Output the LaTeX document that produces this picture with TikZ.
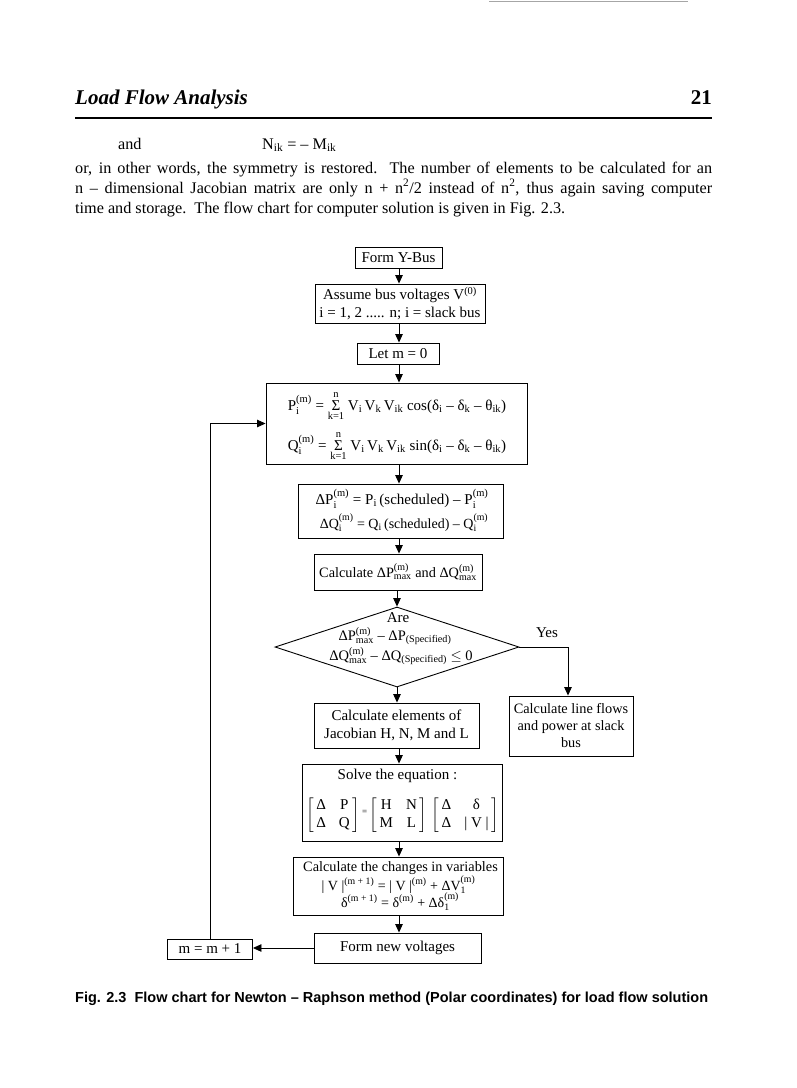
\documentclass[tikz,border=0pt]{standalone}
\usepackage{amsmath}
\usepackage{fontspec}
\setmainfont{Liberation Serif}
\newfontfamily\capfont{Liberation Sans}
\usetikzlibrary{shapes.geometric,arrows.meta}
\newcommand{\SP}[3]{\ensuremath{\text{#1}_{\text{#2}}^{\text{#3}}}}
\newcommand{\SUB}[1]{\textsubscript{#1}}
\newcommand{\SUMK}{\ensuremath{\mathop{\text{Σ}}\limits_{\text{k=1}}^{\text{n}}}}
\newcommand{\fcf}{\fontsize{15}{18.5}\selectfont}
\newcommand{\fcm}{\fontsize{14.3}{17}\selectfont}
\newcommand{\fcs}{\fontsize{14}{16}\selectfont}
\newcommand{\ptf}{\fontsize{16.2}{20}\selectfont}
\newcommand{\MTX}[4]{\left[\begin{array}{@{\,}c@{\hspace{13pt}}c@{\,}}\text{#1}&\text{#2}\\\text{#3}&\text{#4}\end{array}\right]}
\tikzset{
  fcbox/.style={draw, line width=0.9pt, inner sep=1pt, align=center, font=\fcf},
  fctext/.style={inner sep=0pt, font=\fcf},
  ptext/.style={inner sep=0pt, anchor=base west, font=\ptf},
  fcarrow/.style={line width=0.9pt, -{Triangle[length=8.5pt,width=7.5pt]}},
  fcline/.style={line width=0.9pt}
}
\begin{document}
\begin{tikzpicture}[x=1pt,y=-1pt]
\useasboundingbox (0,0) rectangle (797,1088);
% scan edge line at the top
\draw[black!35, line width=1.2pt] (489,1.5) -- (688,1.5);
% running head
\node[anchor=base west, inner sep=0, font=\fontsize{21}{24}\selectfont\bfseries\itshape] (title) at (75,104) {Load Flow Analysis};
\node[anchor=base east, inner sep=0, font=\fontsize{21}{24}\selectfont\bfseries] (pageno) at (712,104) {21};
\coordinate (ruleL) at (75,118);
\coordinate (ruleR) at (712,118);
\draw[line width=1.6pt] (ruleL) -- (ruleR);
% text
\node[ptext] (and) at (118,149) {and};
\node[ptext] (nik) at (262,149) {N\SUB{ik} = – M\SUB{ik}};
\node[ptext] (l1) at (75,173) {\makebox[637pt][s]{or, in other words, the symmetry is restored.\ \ The number of elements to be calculated for an}};
\node[ptext] (l2) at (75,193) {\makebox[637pt][s]{n – dimensional Jacobian matrix are only n + n\textsuperscript{2}/2 instead of n\textsuperscript{2}, thus again saving computer}};
\node[ptext] (l3) at (75,213) {time and storage.\ \ The flow chart for computer solution is given in Fig. 2.3.};
% flow chart
\coordinate (col) at (399,0);
\coordinate (yesx) at (568,0);
\node[fcbox, minimum width=87pt, minimum height=21pt] (ybus) at (398.5,257.5) {Form Y-Bus};
\node[fcbox, minimum width=170pt, minimum height=39pt] (assume) at (400,303.5) {Assume bus voltages V\textsuperscript{(0)}\\i = 1, 2 ..... n; i = slack bus};
\node[fcbox, minimum width=82pt, minimum height=21pt] (letm) at (398,353.5) {Let m = 0};
\node[fcbox, minimum width=261pt, minimum height=81pt] (pq) at (396.5,423.5) {};
\node[fctext, anchor=base] (pline) at (397,410) {\SP{P}{i}{(m)} = \SUMK\ V\SUB{i}\,V\SUB{k}\,V\SUB{ik} cos(δ\SUB{i} – δ\SUB{k} – θ\SUB{ik})};
\node[fctext, anchor=base] (qline) at (397,450) {\SP{Q}{i}{(m)} = \SUMK\ V\SUB{i}\,V\SUB{k}\,V\SUB{ik} sin(δ\SUB{i} – δ\SUB{k} – θ\SUB{ik})};
\node[fcbox, minimum width=205pt, minimum height=54pt] (dp) at (400.5,511) {};
\node[fctext, anchor=base] (dpline) at (402,504) {\SP{ΔP}{i}{(m)} = P\SUB{i}\,(scheduled) – \SP{P}{i}{(m)}};
\node[fctext, anchor=base, font=\fcs] (dqline) at (404,528) {\SP{ΔQ}{i}{(m)} = Q\SUB{i}\,(scheduled) – \SP{Q}{i}{(m)}};
\node[fcbox, font=\fcm, minimum width=168pt, minimum height=36pt] (calcmax) at (398,572) {Calculate \SP{ΔP}{max}{(m)} and \SP{ΔQ}{max}{(m)}};
\node[draw, fcline, diamond, minimum width=244pt, minimum height=80pt, inner sep=0pt] (dia) at (397,647) {};
\node[fctext, anchor=base] (are) at (398,622) {Are};
\node[fctext, anchor=base, font=\fontsize{14.5}{16}\selectfont] (dial2) at (395,640) {\SP{ΔP}{max}{(m)} – ΔP\SUB{(Specified)}};
\node[fctext, anchor=base, font=\fontsize{14.5}{16}\selectfont] (dial3) at (401,660) {\SP{ΔQ}{max}{(m)} – ΔQ\SUB{(Specified)} \ensuremath{\leq} 0};
\node[fctext] (yes) at (547,633) {Yes};
\node[fcbox, minimum width=165pt, minimum height=45pt] (jac) at (396.5,725.5) {Calculate elements of\\Jacobian H, N, M and L};
\node[fcbox, font=\fcm, minimum width=124pt, minimum height=60pt] (flows) at (571,726) {Calculate line flows\\[0pt]and power at slack\\[0pt]bus};
\node[fcbox, minimum width=200pt, minimum height=77pt] (solve) at (402,802.5) {};
\node[fctext, anchor=base] (solvet) at (397.5,779) {Solve the equation :};
\node[fctext] (mat) at (402.5,815) {\renewcommand{\arraystretch}{0.95}$\MTX{Δ}{P}{Δ}{Q}\raisebox{4pt}{\text{\small =}}\MTX{H}{N}{M}{L}\,\MTX{Δ}{δ}{Δ}{| V |}$};
\node[fcbox, minimum width=210pt, minimum height=58pt] (changes) at (398,886) {};
\node[fctext, anchor=base, font=\fcm] (ch1) at (400.5,871) {Calculate the changes in variables};
\node[fctext, anchor=base, font=\fcs] (ch2) at (398.5,890) {\SP{| V |}{}{(m + 1)} = \SP{| V |}{}{(m)} + \SP{ΔV}{1}{(m)}};
\node[fctext, anchor=base, font=\fcs] (ch3) at (400,907) {\SP{δ}{}{(m + 1)} = \SP{δ}{}{(m)} + \SP{Δδ}{1}{(m)}};
\node[fcbox, minimum width=167pt, minimum height=30pt] (newv) at (397.5,948) {Form new voltages};
\node[fcbox, minimum width=85pt, minimum height=20pt] (mm1) at (210,949) {m = m + 1};
% connectors
\draw[fcarrow] (ybus.south -| col) -- (assume.north -| col);
\draw[fcarrow] (assume.south -| col) -- (letm.north -| col);
\draw[fcarrow] (letm.south -| col) -- (pq.north -| col);
\draw[fcarrow] (pq.south -| col) -- (dp.north -| col);
\draw[fcarrow] (dp.south -| col) -- (calcmax.north -| col);
\draw[fcarrow] (calcmax.south -| dia.north) -- (dia.north);
\draw[fcarrow] (dia.south) -- (jac.north -| dia.south);
\draw[fcarrow] (jac.south -| col) -- (solve.north -| col);
\draw[fcarrow] (solve.south -| col) -- (changes.north -| col);
\draw[fcarrow] (changes.south -| col) -- (newv.north -| col);
\draw[fcarrow] (dia.east) -- (dia.east -| yesx) -- (flows.north -| yesx);
\draw[fcarrow] (newv.west) -- (newv.west -| mm1.east);
\draw[fcarrow] (mm1.north) -- (mm1.north |- pq.west) -- (pq.west);
% caption
\node[anchor=base west, inner sep=0, font=\capfont\bfseries\fontsize{14.5}{16}\selectfont] (cap) at (75,1002) {Fig. 2.3\ \ Flow chart for Newton – Raphson method (Polar coordinates) for load flow solution};
\end{tikzpicture}
\end{document}
